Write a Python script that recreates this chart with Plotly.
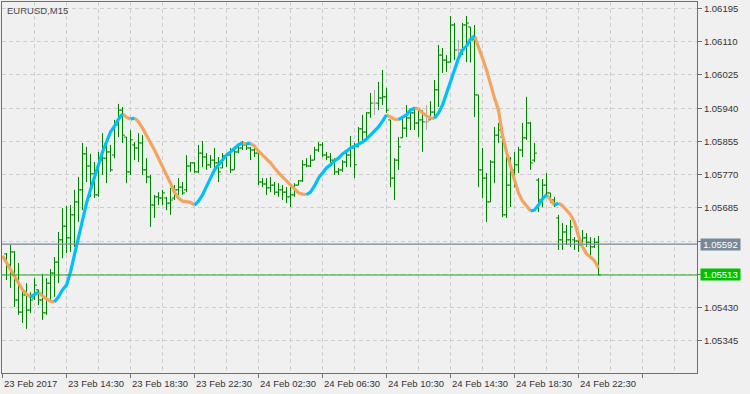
import plotly.graph_objects as go
import pandas as pd

# ---------------- data ----------------
symbol_label = "EURUSD,M15"
axis_origin_time = "2017-02-23 10:30"   # left edge of the chart
first_bar_time = "2017-02-23 10:45"
bar_freq = "15min"

bar_open = [1.05567, 1.05539, 1.05572, 1.05449, 1.05418, 1.05462, 1.05423, 1.05454, 1.05475, 1.05449,
            1.05416, 1.05492, 1.05518, 1.05546, 1.05603, 1.05638, 1.05608, 1.05667, 1.05700, 1.05731,
            1.05823, 1.05792, 1.05772, 1.05718, 1.05807, 1.05812, 1.05828, 1.05820, 1.05897, 1.05935,
            1.05866, 1.05777, 1.05846, 1.05838, 1.05851, 1.05782, 1.05764, 1.05692, 1.05713, 1.05710,
            1.05710, 1.05697, 1.05710, 1.05731, 1.05738, 1.05731, 1.05792, 1.05800, 1.05777, 1.05825,
            1.05815, 1.05795, 1.05807, 1.05800, 1.05787, 1.05818, 1.05820, 1.05782, 1.05828, 1.05838,
            1.05846, 1.05838, 1.05833, 1.05825, 1.05751, 1.05746, 1.05736, 1.05743, 1.05725, 1.05731,
            1.05725, 1.05713, 1.05718, 1.05743, 1.05754, 1.05795, 1.05792, 1.05807, 1.05833, 1.05846,
            1.05820, 1.05815, 1.05807, 1.05777, 1.05782, 1.05802, 1.05820, 1.05838, 1.05841, 1.05887,
            1.05879, 1.05928, 1.05953, 1.05953, 1.05966, 1.05969, 1.05910, 1.05761, 1.05807, 1.05864,
            1.05889, 1.05915, 1.05928, 1.05902, 1.05910, 1.05905, 1.05910, 1.05930, 1.05987, 1.06076,
            1.06063, 1.06058, 1.06153, 1.06089, 1.06089, 1.06153, 1.06148, 1.06115, 1.05974, 1.05782,
            1.05761, 1.05700, 1.05802, 1.05871, 1.05866, 1.05667, 1.05743, 1.05782, 1.05795, 1.05833,
            1.05864, 1.05902, 1.05807, 1.05756, 1.05705, 1.05743, 1.05723, 1.05705, 1.05659, 1.05603,
            1.05623, 1.05603, 1.05603, 1.05600, 1.05590, 1.05608, 1.05597, 1.05585, 1.05597]
bar_high = [1.05569, 1.05590, 1.05574, 1.05544, 1.05475, 1.05492, 1.05469, 1.05505, 1.05475, 1.05516,
            1.05505, 1.05528, 1.05559, 1.05623, 1.05684, 1.05690, 1.05692, 1.05731, 1.05764, 1.05851,
            1.05841, 1.05823, 1.05802, 1.05828, 1.05876, 1.05859, 1.05846, 1.05910, 1.05951, 1.05943,
            1.05866, 1.05884, 1.05853, 1.05876, 1.05871, 1.05812, 1.05769, 1.05718, 1.05725, 1.05731,
            1.05713, 1.05736, 1.05743, 1.05761, 1.05751, 1.05820, 1.05802, 1.05802, 1.05846, 1.05856,
            1.05825, 1.05820, 1.05838, 1.05815, 1.05825, 1.05825, 1.05838, 1.05841, 1.05851, 1.05856,
            1.05851, 1.05841, 1.05838, 1.05833, 1.05761, 1.05761, 1.05764, 1.05751, 1.05748, 1.05743,
            1.05738, 1.05743, 1.05748, 1.05756, 1.05807, 1.05812, 1.05820, 1.05841, 1.05853, 1.05853,
            1.05828, 1.05825, 1.05812, 1.05787, 1.05807, 1.05833, 1.05869, 1.05851, 1.05892, 1.05923,
            1.05930, 1.05979, 1.05987, 1.06007, 1.06038, 1.05992, 1.05910, 1.05812, 1.05866, 1.05917,
            1.05948, 1.05940, 1.05943, 1.05935, 1.05935, 1.05948, 1.05958, 1.06012, 1.06102, 1.06094,
            1.06076, 1.06176, 1.06158, 1.06115, 1.06158, 1.06176, 1.06148, 1.06153, 1.05974, 1.05838,
            1.05774, 1.05807, 1.05892, 1.05902, 1.05866, 1.05828, 1.05815, 1.05828, 1.05841, 1.05902,
            1.05969, 1.05905, 1.05851, 1.05761, 1.05759, 1.05774, 1.05723, 1.05713, 1.05667, 1.05646,
            1.05641, 1.05654, 1.05610, 1.05623, 1.05628, 1.05620, 1.05610, 1.05608, 1.05613]
bar_low = [1.05500, 1.05480, 1.05431, 1.05411, 1.05390, 1.05375, 1.05416, 1.05449, 1.05436, 1.05398,
           1.05411, 1.05449, 1.05457, 1.05492, 1.05556, 1.05569, 1.05572, 1.05585, 1.05649, 1.05679,
           1.05751, 1.05713, 1.05710, 1.05713, 1.05769, 1.05748, 1.05777, 1.05812, 1.05866, 1.05851,
           1.05748, 1.05769, 1.05807, 1.05802, 1.05769, 1.05748, 1.05636, 1.05659, 1.05692, 1.05692,
           1.05679, 1.05667, 1.05705, 1.05718, 1.05718, 1.05725, 1.05777, 1.05774, 1.05774, 1.05789,
           1.05782, 1.05787, 1.05782, 1.05751, 1.05787, 1.05789, 1.05774, 1.05782, 1.05825, 1.05833,
           1.05833, 1.05807, 1.05815, 1.05743, 1.05738, 1.05718, 1.05725, 1.05718, 1.05713, 1.05705,
           1.05697, 1.05687, 1.05713, 1.05743, 1.05751, 1.05789, 1.05789, 1.05807, 1.05828, 1.05815,
           1.05807, 1.05800, 1.05769, 1.05769, 1.05777, 1.05789, 1.05789, 1.05761, 1.05841, 1.05851,
           1.05864, 1.05915, 1.05923, 1.05935, 1.05948, 1.05928, 1.05738, 1.05705, 1.05782, 1.05864,
           1.05866, 1.05884, 1.05884, 1.05866, 1.05828, 1.05884, 1.05910, 1.05915, 1.05943, 1.06030,
           1.06033, 1.06057, 1.06063, 1.06071, 1.06076, 1.06058, 1.06057, 1.05917, 1.05738, 1.05710,
           1.05649, 1.05700, 1.05748, 1.05851, 1.05661, 1.05659, 1.05687, 1.05738, 1.05774, 1.05815,
           1.05859, 1.05782, 1.05802, 1.05674, 1.05687, 1.05718, 1.05697, 1.05687, 1.05577, 1.05577,
           1.05590, 1.05585, 1.05577, 1.05572, 1.05585, 1.05585, 1.05559, 1.05582, 1.05513]
bar_close = [1.05539, 1.05572, 1.05449, 1.05418, 1.05462, 1.05423, 1.05449, 1.05487, 1.05449, 1.05416,
             1.05492, 1.05518, 1.05546, 1.05603, 1.05638, 1.05608, 1.05667, 1.05700, 1.05731, 1.05823,
             1.05792, 1.05772, 1.05718, 1.05807, 1.05812, 1.05828, 1.05782, 1.05897, 1.05935, 1.05871,
             1.05777, 1.05859, 1.05838, 1.05851, 1.05782, 1.05764, 1.05692, 1.05713, 1.05710, 1.05723,
             1.05697, 1.05705, 1.05731, 1.05738, 1.05723, 1.05792, 1.05800, 1.05777, 1.05825, 1.05815,
             1.05795, 1.05807, 1.05800, 1.05777, 1.05818, 1.05820, 1.05782, 1.05828, 1.05838, 1.05846,
             1.05838, 1.05833, 1.05825, 1.05751, 1.05746, 1.05736, 1.05743, 1.05725, 1.05731, 1.05725,
             1.05713, 1.05718, 1.05743, 1.05754, 1.05795, 1.05792, 1.05807, 1.05833, 1.05846, 1.05820,
             1.05815, 1.05807, 1.05777, 1.05782, 1.05802, 1.05820, 1.05838, 1.05795, 1.05887, 1.05879,
             1.05928, 1.05953, 1.05953, 1.05966, 1.05969, 1.05935, 1.05761, 1.05807, 1.05841, 1.05889,
             1.05915, 1.05928, 1.05902, 1.05910, 1.05905, 1.05905, 1.05930, 1.05987, 1.06076, 1.06063,
             1.06058, 1.06153, 1.06089, 1.06089, 1.06153, 1.06158, 1.06115, 1.05974, 1.05782, 1.05761,
             1.05700, 1.05802, 1.05871, 1.05884, 1.05667, 1.05743, 1.05782, 1.05795, 1.05833, 1.05864,
             1.05902, 1.05800, 1.05825, 1.05705, 1.05743, 1.05723, 1.05705, 1.05692, 1.05603, 1.05623,
             1.05603, 1.05636, 1.05600, 1.05590, 1.05608, 1.05597, 1.05585, 1.05597, 1.05513]

# moving-average line, one value per bar starting at the left edge (10:30)
ma_values = [1.05562, 1.05544, 1.05526, 1.05508, 1.05490, 1.05475, 1.05464, 1.05457, 1.05462, 1.05469,
             1.05459, 1.05452, 1.05446, 1.05444, 1.05457, 1.05475, 1.05487, 1.05521, 1.05564, 1.05603,
             1.05654, 1.05697, 1.05731, 1.05761, 1.05795, 1.05828, 1.05856, 1.05879, 1.05894, 1.05912,
             1.05925, 1.05917, 1.05912, 1.05915, 1.05905, 1.05889, 1.05871, 1.05853, 1.05833, 1.05812,
             1.05792, 1.05769, 1.05748, 1.05725, 1.05710, 1.05702, 1.05700, 1.05699, 1.05692, 1.05702,
             1.05718, 1.05741, 1.05761, 1.05782, 1.05795, 1.05810, 1.05820, 1.05828, 1.05838, 1.05846,
             1.05851, 1.05849, 1.05850, 1.05843, 1.05830, 1.05820, 1.05810, 1.05800, 1.05787, 1.05774,
             1.05764, 1.05754, 1.05743, 1.05733, 1.05723, 1.05720, 1.05719, 1.05725, 1.05741, 1.05761,
             1.05774, 1.05787, 1.05795, 1.05805, 1.05812, 1.05823, 1.05830, 1.05838, 1.05843, 1.05848,
             1.05853, 1.05861, 1.05871, 1.05882, 1.05892, 1.05907, 1.05923, 1.05917, 1.05912, 1.05911,
             1.05917, 1.05923, 1.05935, 1.05940, 1.05938, 1.05928, 1.05920, 1.05915, 1.05914, 1.05928,
             1.05948, 1.05979, 1.06012, 1.06040, 1.06068, 1.06089, 1.06099, 1.06117, 1.06125, 1.06099,
             1.06068, 1.06038, 1.05999, 1.05966, 1.05935, 1.05871, 1.05828, 1.05789, 1.05756, 1.05723,
             1.05702, 1.05690, 1.05677, 1.05679, 1.05692, 1.05708, 1.05718, 1.05705, 1.05692, 1.05697,
             1.05690, 1.05679, 1.05667, 1.05649, 1.05613, 1.05585, 1.05567, 1.05559, 1.05549, 1.05531]

price_ticks = [1.05345, 1.05430, 1.05515, 1.05600, 1.05685, 1.05770,
               1.05855, 1.05940, 1.06025, 1.06110, 1.06195]
price_tick_text = ["1.05345", "1.05430", "", "", "1.05685", "1.05770",
                   "1.05855", "1.05940", "1.06025", "1.06110", "1.06195"]
time_tick_times = ["2017-02-23 10:30", "2017-02-23 14:30", "2017-02-23 18:30", "2017-02-23 22:30",
                   "2017-02-24 02:30", "2017-02-24 06:30", "2017-02-24 10:30", "2017-02-24 14:30",
                   "2017-02-24 18:30", "2017-02-24 22:30"]
time_tick_labels = ["23 Feb 2017", "23 Feb 14:30", "23 Feb 18:30", "23 Feb 22:30", "24 Feb 02:30",
                    "24 Feb 06:30", "24 Feb 10:30", "24 Feb 14:30", "24 Feb 18:30", "24 Feb 22:30"]
level_price = 1.05592
bid_price = 1.05513

# ---------------- styling ----------------
BG = "#f0f0f0"
BAR_COLOR = "#008000"
DOJI_COLOR = "#a9a9a9"
UP_COLOR = "#00bfff"
DOWN_COLOR = "#f4a460"
GRID = "#cdcdcd"
FRAME = "#6e6e6e"
TEXT = "#333333"
FONT = "Liberation Sans, Arial, sans-serif"
FS = 9.5

t0 = pd.Timestamp(axis_origin_time)
step = pd.Timedelta(bar_freq)


def pos(ts):
    return (pd.Timestamp(ts) - t0) / step


bar_times = pd.date_range(first_bar_time, periods=len(bar_close), freq=bar_freq)
bar_pos = [pos(t) for t in bar_times]
ma_pos = [pos(t) for t in pd.date_range(axis_origin_time, periods=len(ma_values), freq=bar_freq)]

TW = 0.6  # tick length in bar units
gx, gy, dx, dy = [], [], [], []
for p, o, h, l, c in zip(bar_pos, bar_open, bar_high, bar_low, bar_close):
    xs, ys = (dx, dy) if o == c else (gx, gy)
    xs += [p, p, None, p - TW, p, None, p, p + TW, None]
    ys += [l, h, None, o, o, None, c, c, None]

fig = go.Figure()
fig.add_trace(go.Scatter(x=gx, y=gy, mode="lines", line=dict(color=BAR_COLOR, width=1),
                         hoverinfo="skip", showlegend=False))
fig.add_trace(go.Scatter(x=dx, y=dy, mode="lines", line=dict(color=DOJI_COLOR, width=1),
                         hoverinfo="skip", showlegend=False))

# MA coloured by slope
runs = []
for k in range(1, len(ma_values)):
    up = ma_values[k] > ma_values[k - 1]
    if runs and runs[-1][0] == up:
        runs[-1][1].append(k)
    else:
        runs.append([up, [k - 1, k]])
for want_up, color in ((False, DOWN_COLOR), (True, UP_COLOR)):
    mx, my = [], []
    for up, idx in runs:
        if up != want_up:
            continue
        mx += [ma_pos[j] for j in idx] + [None]
        my += [ma_values[j] for j in idx] + [None]
    fig.add_trace(go.Scatter(x=mx, y=my, mode="lines", line=dict(color=color, width=3.2),
                             hoverinfo="skip", showlegend=False))

# horizontal price lines
fig.add_shape(type="line", xref="paper", x0=0, x1=1, yref="y", y0=level_price, y1=level_price,
              line=dict(color="#778899", width=1.2), layer="above")
fig.add_shape(type="line", xref="paper", x0=0, x1=1, yref="y", y0=bid_price, y1=bid_price,
              line=dict(color="#1faa1f", width=1.2), layer="above")

annotations = []
for ttime, lab in zip(time_tick_times, time_tick_labels):
    annotations.append(dict(x=pos(ttime), xref="x", y=0, yref="paper", text=lab, showarrow=False,
                            xanchor="left", yanchor="top", yshift=-3, xshift=-1,
                            font=dict(family=FONT, size=FS, color=TEXT)))
annotations.append(dict(x=0, xref="paper", y=1, yref="paper", text=symbol_label, showarrow=False,
                        xanchor="left", yanchor="top", xshift=3, yshift=-1,
                        font=dict(family=FONT, size=FS, color="#4a4a4a")))
for price, bg in ((level_price, "#778899"), (bid_price, "#00c000")):
    annotations.append(dict(x=1, xref="paper", y=price, yref="y", text=f"{price:.5f}",
                            showarrow=False, xanchor="left", yanchor="middle", xshift=3,
                            bgcolor=bg, borderpad=1, width=37, height=9,
                            font=dict(family=FONT, size=FS, color="white")))

span = 695 / 4.0
r0 = -0.125
y_hi = 1.0621184
y_lo = 1.0526208

fig.update_layout(
    width=750, height=394,
    margin=dict(l=2, r=53, t=2, b=21, pad=0),
    paper_bgcolor=BG, plot_bgcolor=BG,
    showlegend=False,
    annotations=annotations,
    xaxis=dict(range=[r0, r0 + span], tickmode="linear", tick0=0, dtick=16,
               showticklabels=False, ticks="outside", ticklen=4, tickcolor=FRAME,
               showgrid=True, gridcolor=GRID, griddash="4px,3px", gridwidth=1,
               minor=dict(tickmode="linear", tick0=0, dtick=8, showgrid=True, gridcolor=GRID,
                          griddash="4px,3px", ticks=""),
               showline=True, linecolor=FRAME, linewidth=1, mirror=True, zeroline=False,
               fixedrange=True),
    yaxis=dict(range=[y_lo, y_hi], side="right", tickmode="array", tickvals=price_ticks,
               ticktext=price_tick_text, ticks="outside", ticklen=4, tickcolor=FRAME,
               tickfont=dict(family=FONT, size=FS, color=TEXT),
               showgrid=True, gridcolor=GRID, griddash="4px,3px", gridwidth=1,
               showline=True, linecolor=FRAME, linewidth=1, mirror=True, zeroline=False,
               fixedrange=True),
)

fig.write_html("out.html")
